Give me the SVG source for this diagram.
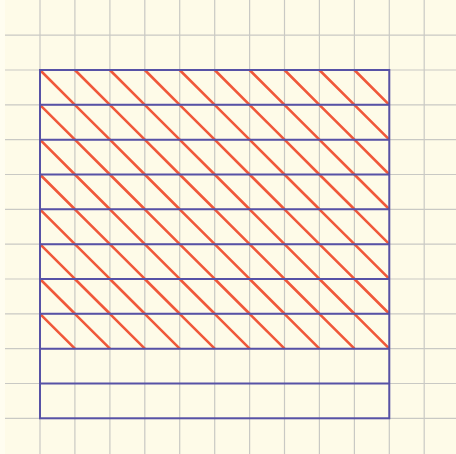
<svg xmlns="http://www.w3.org/2000/svg" width="456" height="454" viewBox="0 0 456 454">
<defs>
<style>
.grid line{stroke:#c9c9c4;stroke-width:1.2}
.hatch line{stroke:#f0583a;stroke-width:2.6;stroke-linecap:butt}
.blue{stroke:#5752a6;stroke-width:2;fill:none}
</style>
</defs>
<rect x="0" y="0" width="456" height="454" fill="#fffdf0"/>
<rect x="5" y="0" width="451" height="454" fill="#fefbe8"/>
<g id="grid" class="grid">
<line x1="40" y1="0" x2="40" y2="454"/>
<line x1="74.9" y1="0" x2="74.9" y2="454"/>
<line x1="109.9" y1="0" x2="109.9" y2="454"/>
<line x1="144.8" y1="0" x2="144.8" y2="454"/>
<line x1="179.7" y1="0" x2="179.7" y2="454"/>
<line x1="214.7" y1="0" x2="214.7" y2="454"/>
<line x1="249.6" y1="0" x2="249.6" y2="454"/>
<line x1="284.5" y1="0" x2="284.5" y2="454"/>
<line x1="319.4" y1="0" x2="319.4" y2="454"/>
<line x1="354.4" y1="0" x2="354.4" y2="454"/>
<line x1="389.3" y1="0" x2="389.3" y2="454"/>
<line x1="424.2" y1="0" x2="424.2" y2="454"/>
<line x1="5" y1="35.2" x2="456" y2="35.2"/>
<line x1="5" y1="70" x2="456" y2="70"/>
<line x1="5" y1="104.8" x2="456" y2="104.8"/>
<line x1="5" y1="139.7" x2="456" y2="139.7"/>
<line x1="5" y1="174.5" x2="456" y2="174.5"/>
<line x1="5" y1="209.3" x2="456" y2="209.3"/>
<line x1="5" y1="244.2" x2="456" y2="244.2"/>
<line x1="5" y1="279" x2="456" y2="279"/>
<line x1="5" y1="313.8" x2="456" y2="313.8"/>
<line x1="5" y1="348.7" x2="456" y2="348.7"/>
<line x1="5" y1="383.5" x2="456" y2="383.5"/>
<line x1="5" y1="418.3" x2="456" y2="418.3"/>
</g>
<g id="hatch" class="hatch">
<path id="row" d="M40,70 L74.9,104.8 M74.9,70 L109.9,104.8 M109.9,70 L144.8,104.8 M144.8,70 L179.7,104.8 M179.7,70 L214.7,104.8 M214.7,70 L249.6,104.8 M249.6,70 L284.5,104.8 M284.5,70 L319.4,104.8 M319.4,70 L354.4,104.8 M354.4,70 L389.3,104.8" stroke="#f0583a" stroke-width="2.6" fill="none"/>
<use href="#row" y="34.83"/>
<use href="#row" y="69.66"/>
<use href="#row" y="104.49"/>
<use href="#row" y="139.32"/>
<use href="#row" y="174.15"/>
<use href="#row" y="208.98"/>
<use href="#row" y="243.81"/>
</g>
<g id="strips" class="blue">
<rect x="40" y="70" width="349.3" height="348.3"/>
<line x1="40" y1="104.8" x2="389.3" y2="104.8"/>
<line x1="40" y1="139.7" x2="389.3" y2="139.7"/>
<line x1="40" y1="174.5" x2="389.3" y2="174.5"/>
<line x1="40" y1="209.3" x2="389.3" y2="209.3"/>
<line x1="40" y1="244.2" x2="389.3" y2="244.2"/>
<line x1="40" y1="279" x2="389.3" y2="279"/>
<line x1="40" y1="313.8" x2="389.3" y2="313.8"/>
<line x1="40" y1="348.7" x2="389.3" y2="348.7"/>
<line x1="40" y1="383.5" x2="389.3" y2="383.5"/>
</g>
</svg>
